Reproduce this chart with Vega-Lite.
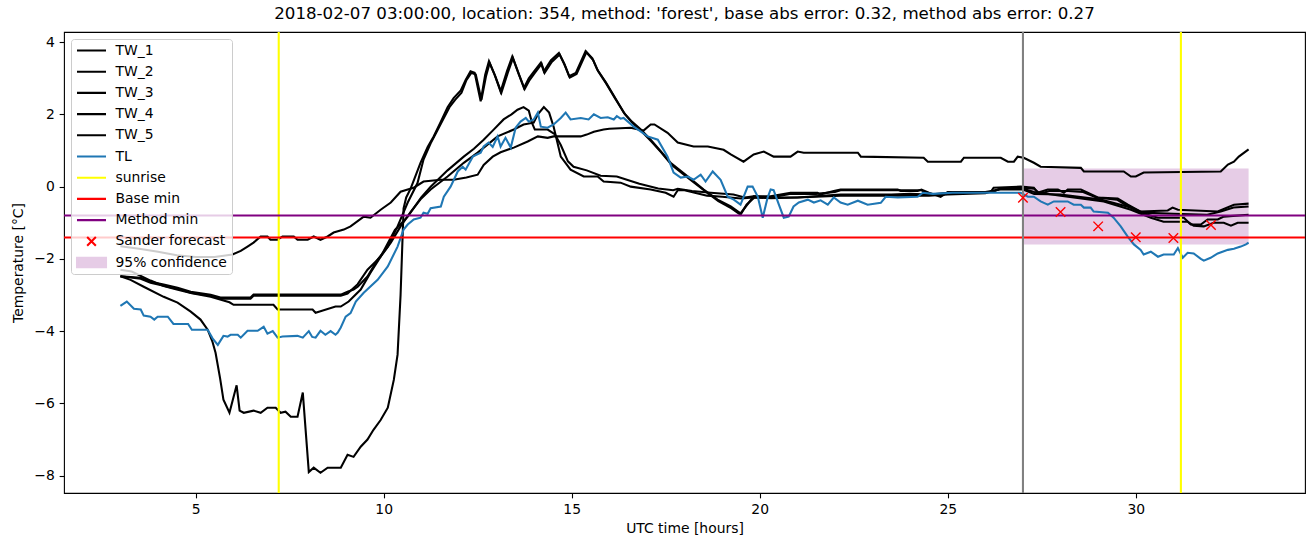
{
"$schema": "https://vega.github.io/schema/vega-lite/v6.json",
"width": 1241, "height": 461,
"autosize": {"type": "none"},
"padding": {"left": 64, "top": 32, "right": 8, "bottom": 54},
"background": "white",
"title": {"text": "2018-02-07 03:00:00, location: 354, method: 'forest', base abs error: 0.32, method abs error: 0.27", "font": "DejaVu Sans", "fontSize": 16.67, "fontWeight": "normal", "color": "black", "offset": 8, "anchor": "middle"},
"config": {
  "view": {"stroke": "black", "strokeWidth": 1.1},
  "axis": {"domain": false, "grid": false, "tickColor": "black", "tickSize": 4.86, "tickWidth": 1.1, "labelFont": "DejaVu Sans", "labelFontSize": 13.9, "labelColor": "black", "labelPadding": 4.86, "titleFont": "DejaVu Sans", "titleFontSize": 13.9, "titleFontWeight": "normal", "titleColor": "black"}
},
"datasets": {
  "band": [{"s": "95% confidence", "t": 27, "t2": 33, "v": -1.6, "v2": 0.5}],
  "sunrise": [{"s": "sunrise", "t": 7.21}, {"s": "sunrise", "t": 31.2}],
  "mins": [{"s": "Base min", "v": -1.41}, {"s": "Method min", "v": -0.8}],
  "now": [{"t": 27}],
  "fc": [{"s": "Sander forecast", "t": 27, "v": -0.31}, {"s": "Sander forecast", "t": 28, "v": -0.7}, {"s": "Sander forecast", "t": 29, "v": -1.1}, {"s": "Sander forecast", "t": 30, "v": -1.4}, {"s": "Sander forecast", "t": 31, "v": -1.42}, {"s": "Sander forecast", "t": 32, "v": -1.06}],
  "lines": [
{"s":"TW_1","t":3.0,"v":-2.48},{"s":"TW_1","t":3.27,"v":-2.58},{"s":"TW_1","t":3.62,"v":-2.77},{"s":"TW_1","t":4.15,"v":-3.05},{"s":"TW_1","t":4.52,"v":-3.21},{"s":"TW_1","t":4.87,"v":-3.46},{"s":"TW_1","t":5.13,"v":-3.68},{"s":"TW_1","t":5.32,"v":-3.96},{"s":"TW_1","t":5.45,"v":-4.3},{"s":"TW_1","t":5.53,"v":-4.6},{"s":"TW_1","t":5.65,"v":-5.3},{"s":"TW_1","t":5.74,"v":-5.9},{"s":"TW_1","t":5.9,"v":-6.26},{"s":"TW_1","t":6.09,"v":-5.5},{"s":"TW_1","t":6.17,"v":-6.2},{"s":"TW_1","t":6.28,"v":-6.26},{"s":"TW_1","t":6.54,"v":-6.2},{"s":"TW_1","t":6.73,"v":-6.26},{"s":"TW_1","t":6.91,"v":-6.12},{"s":"TW_1","t":7.13,"v":-6.12},{"s":"TW_1","t":7.26,"v":-6.26},{"s":"TW_1","t":7.39,"v":-6.23},{"s":"TW_1","t":7.53,"v":-6.37},{"s":"TW_1","t":7.71,"v":-6.37},{"s":"TW_1","t":7.85,"v":-5.7},{"s":"TW_1","t":8.01,"v":-7.9},{"s":"TW_1","t":8.14,"v":-7.78},{"s":"TW_1","t":8.32,"v":-7.92},{"s":"TW_1","t":8.51,"v":-7.78},{"s":"TW_1","t":8.86,"v":-7.78},{"s":"TW_1","t":9.04,"v":-7.42},{"s":"TW_1","t":9.2,"v":-7.48},{"s":"TW_1","t":9.39,"v":-7.2},{"s":"TW_1","t":9.57,"v":-7.0},{"s":"TW_1","t":9.73,"v":-6.73},{"s":"TW_1","t":9.92,"v":-6.46},{"s":"TW_1","t":10.11,"v":-6.12},{"s":"TW_1","t":10.27,"v":-5.35},{"s":"TW_1","t":10.37,"v":-4.65},{"s":"TW_1","t":10.45,"v":-3.0},{"s":"TW_1","t":10.53,"v":-0.6},{"s":"TW_1","t":10.6,"v":-0.3},{"s":"TW_1","t":10.72,"v":-0.05},{"s":"TW_1","t":10.98,"v":0.66},{"s":"TW_1","t":11.17,"v":1.1},{"s":"TW_1","t":11.33,"v":1.39},{"s":"TW_1","t":11.52,"v":1.8},{"s":"TW_1","t":11.7,"v":2.2},{"s":"TW_1","t":11.86,"v":2.45},{"s":"TW_1","t":12.05,"v":2.66},{"s":"TW_1","t":12.18,"v":2.95},{"s":"TW_1","t":12.31,"v":3.19},{"s":"TW_1","t":12.42,"v":3.15},{"s":"TW_1","t":12.58,"v":2.36},{"s":"TW_1","t":12.7,"v":3.1},{"s":"TW_1","t":12.8,"v":3.47},{"s":"TW_1","t":12.95,"v":3.1},{"s":"TW_1","t":13.11,"v":2.63},{"s":"TW_1","t":13.28,"v":3.2},{"s":"TW_1","t":13.42,"v":3.6},{"s":"TW_1","t":13.58,"v":3.15},{"s":"TW_1","t":13.73,"v":2.73},{"s":"TW_1","t":13.86,"v":3.0},{"s":"TW_1","t":14.0,"v":3.19},{"s":"TW_1","t":14.18,"v":3.43},{"s":"TW_1","t":14.26,"v":3.19},{"s":"TW_1","t":14.45,"v":3.5},{"s":"TW_1","t":14.66,"v":3.7},{"s":"TW_1","t":14.8,"v":3.4},{"s":"TW_1","t":14.93,"v":3.06},{"s":"TW_1","t":15.11,"v":3.15},{"s":"TW_1","t":15.37,"v":3.75},{"s":"TW_1","t":15.55,"v":3.55},{"s":"TW_1","t":15.68,"v":3.24},{"s":"TW_1","t":15.9,"v":2.9},{"s":"TW_1","t":16.13,"v":2.5},{"s":"TW_1","t":16.39,"v":2.04},{"s":"TW_1","t":16.6,"v":1.8},{"s":"TW_1","t":16.84,"v":1.58},{"s":"TW_1","t":17.1,"v":1.3},{"s":"TW_1","t":17.35,"v":1.0},{"s":"TW_1","t":17.63,"v":0.66},{"s":"TW_1","t":18.09,"v":0.28},{"s":"TW_1","t":18.51,"v":-0.08},{"s":"TW_1","t":18.88,"v":-0.36},{"s":"TW_1","t":19.23,"v":-0.55},{"s":"TW_1","t":19.49,"v":-0.74},{"s":"TW_1","t":19.63,"v":-0.55},{"s":"TW_1","t":19.84,"v":-0.27},{"s":"TW_1","t":20.29,"v":-0.27},{"s":"TW_1","t":20.82,"v":-0.17},{"s":"TW_1","t":21.54,"v":-0.17},{"s":"TW_1","t":21.6,"v":-0.22},{"s":"TW_1","t":21.97,"v":-0.12},{"s":"TW_1","t":22.15,"v":-0.08},{"s":"TW_1","t":23.67,"v":-0.08},{"s":"TW_1","t":23.75,"v":-0.12},{"s":"TW_1","t":24.2,"v":-0.12},{"s":"TW_1","t":24.3,"v":-0.08},{"s":"TW_1","t":24.5,"v":-0.17},{"s":"TW_1","t":24.81,"v":-0.28},{"s":"TW_1","t":25.0,"v":-0.15},{"s":"TW_1","t":26.14,"v":-0.15},{"s":"TW_1","t":26.22,"v":-0.03},{"s":"TW_1","t":26.94,"v":0.0},{"s":"TW_1","t":27.29,"v":-0.03},{"s":"TW_1","t":27.39,"v":-0.17},{"s":"TW_1","t":27.66,"v":-0.08},{"s":"TW_1","t":27.93,"v":-0.08},{"s":"TW_1","t":28.09,"v":-0.17},{"s":"TW_1","t":28.19,"v":-0.08},{"s":"TW_1","t":28.54,"v":-0.08},{"s":"TW_1","t":28.72,"v":-0.17},{"s":"TW_1","t":28.99,"v":-0.3},{"s":"TW_1","t":29.52,"v":-0.33},{"s":"TW_1","t":29.79,"v":-0.5},{"s":"TW_1","t":30.13,"v":-0.69},{"s":"TW_1","t":30.85,"v":-0.66},{"s":"TW_1","t":30.98,"v":-0.58},{"s":"TW_1","t":31.12,"v":-0.64},{"s":"TW_1","t":32.18,"v":-0.69},{"s":"TW_1","t":32.61,"v":-0.5},{"s":"TW_1","t":33.0,"v":-0.47},
{"s":"TW_2","t":3.0,"v":-2.48},{"s":"TW_2","t":3.54,"v":-2.52},{"s":"TW_2","t":3.8,"v":-2.63},{"s":"TW_2","t":4.15,"v":-2.71},{"s":"TW_2","t":4.52,"v":-2.8},{"s":"TW_2","t":4.87,"v":-2.91},{"s":"TW_2","t":5.4,"v":-2.99},{"s":"TW_2","t":5.66,"v":-3.07},{"s":"TW_2","t":6.46,"v":-3.07},{"s":"TW_2","t":6.54,"v":-2.99},{"s":"TW_2","t":8.86,"v":-2.99},{"s":"TW_2","t":9.04,"v":-2.91},{"s":"TW_2","t":9.2,"v":-2.85},{"s":"TW_2","t":9.31,"v":-2.77},{"s":"TW_2","t":9.57,"v":-2.49},{"s":"TW_2","t":9.84,"v":-2.02},{"s":"TW_2","t":10.11,"v":-1.66},{"s":"TW_2","t":10.37,"v":-1.1},{"s":"TW_2","t":10.64,"v":-0.44},{"s":"TW_2","t":10.9,"v":0.1},{"s":"TW_2","t":11.06,"v":0.75},{"s":"TW_2","t":11.25,"v":1.2},{"s":"TW_2","t":11.4,"v":1.5},{"s":"TW_2","t":11.6,"v":1.9},{"s":"TW_2","t":11.75,"v":2.2},{"s":"TW_2","t":11.9,"v":2.4},{"s":"TW_2","t":12.07,"v":2.6},{"s":"TW_2","t":12.2,"v":2.95},{"s":"TW_2","t":12.33,"v":3.15},{"s":"TW_2","t":12.45,"v":3.1},{"s":"TW_2","t":12.6,"v":2.4},{"s":"TW_2","t":12.72,"v":3.05},{"s":"TW_2","t":12.82,"v":3.42},{"s":"TW_2","t":12.97,"v":3.05},{"s":"TW_2","t":13.13,"v":2.6},{"s":"TW_2","t":13.3,"v":3.15},{"s":"TW_2","t":13.44,"v":3.56},{"s":"TW_2","t":13.6,"v":3.1},{"s":"TW_2","t":13.75,"v":2.7},{"s":"TW_2","t":13.88,"v":2.95},{"s":"TW_2","t":14.02,"v":3.15},{"s":"TW_2","t":14.2,"v":3.4},{"s":"TW_2","t":14.28,"v":3.15},{"s":"TW_2","t":14.47,"v":3.45},{"s":"TW_2","t":14.68,"v":3.66},{"s":"TW_2","t":14.82,"v":3.36},{"s":"TW_2","t":14.95,"v":3.02},{"s":"TW_2","t":15.13,"v":3.12},{"s":"TW_2","t":15.39,"v":3.72},{"s":"TW_2","t":15.57,"v":3.5},{"s":"TW_2","t":15.7,"v":3.2},{"s":"TW_2","t":15.92,"v":2.85},{"s":"TW_2","t":16.15,"v":2.45},{"s":"TW_2","t":16.42,"v":2.0},{"s":"TW_2","t":16.63,"v":1.75},{"s":"TW_2","t":16.87,"v":1.52},{"s":"TW_2","t":17.12,"v":1.25},{"s":"TW_2","t":17.38,"v":0.95},{"s":"TW_2","t":17.66,"v":0.6},{"s":"TW_2","t":18.12,"v":0.22},{"s":"TW_2","t":18.54,"v":-0.12},{"s":"TW_2","t":18.9,"v":-0.4},{"s":"TW_2","t":19.25,"v":-0.6},{"s":"TW_2","t":19.49,"v":-0.78},{"s":"TW_2","t":19.65,"v":-0.5},{"s":"TW_2","t":19.86,"v":-0.3},{"s":"TW_2","t":20.3,"v":-0.3},{"s":"TW_2","t":20.8,"v":-0.2},{"s":"TW_2","t":21.5,"v":-0.2},{"s":"TW_2","t":22.0,"v":-0.15},{"s":"TW_2","t":22.15,"v":-0.1},{"s":"TW_2","t":24.3,"v":-0.1},{"s":"TW_2","t":24.55,"v":-0.22},{"s":"TW_2","t":25.0,"v":-0.17},{"s":"TW_2","t":26.2,"v":-0.15},{"s":"TW_2","t":26.4,"v":-0.05},{"s":"TW_2","t":27.0,"v":-0.03},{"s":"TW_2","t":27.3,"v":-0.06},{"s":"TW_2","t":27.45,"v":-0.2},{"s":"TW_2","t":27.7,"v":-0.12},{"s":"TW_2","t":28.2,"v":-0.12},{"s":"TW_2","t":28.6,"v":-0.15},{"s":"TW_2","t":28.95,"v":-0.3},{"s":"TW_2","t":29.5,"v":-0.36},{"s":"TW_2","t":29.8,"v":-0.55},{"s":"TW_2","t":30.15,"v":-0.72},{"s":"TW_2","t":31.0,"v":-0.75},{"s":"TW_2","t":31.9,"v":-0.78},{"s":"TW_2","t":32.26,"v":-0.69},{"s":"TW_2","t":32.6,"v":-0.58},{"s":"TW_2","t":33.0,"v":-0.55},
{"s":"TW_3","t":3.0,"v":-2.48},{"s":"TW_3","t":3.54,"v":-2.55},{"s":"TW_3","t":3.8,"v":-2.66},{"s":"TW_3","t":4.15,"v":-2.74},{"s":"TW_3","t":4.52,"v":-2.83},{"s":"TW_3","t":4.87,"v":-2.94},{"s":"TW_3","t":5.4,"v":-3.02},{"s":"TW_3","t":5.66,"v":-3.1},{"s":"TW_3","t":6.46,"v":-3.1},{"s":"TW_3","t":6.54,"v":-3.02},{"s":"TW_3","t":8.86,"v":-3.02},{"s":"TW_3","t":9.04,"v":-2.96},{"s":"TW_3","t":9.31,"v":-2.7},{"s":"TW_3","t":9.57,"v":-2.3},{"s":"TW_3","t":9.92,"v":-1.94},{"s":"TW_3","t":10.3,"v":-1.2},{"s":"TW_3","t":10.64,"v":-0.83},{"s":"TW_3","t":11.0,"v":-0.3},{"s":"TW_3","t":11.25,"v":0.0},{"s":"TW_3","t":11.7,"v":0.45},{"s":"TW_3","t":12.13,"v":0.83},{"s":"TW_3","t":12.4,"v":1.05},{"s":"TW_3","t":12.66,"v":1.3},{"s":"TW_3","t":12.9,"v":1.55},{"s":"TW_3","t":13.19,"v":1.86},{"s":"TW_3","t":13.4,"v":2.0},{"s":"TW_3","t":13.56,"v":2.13},{"s":"TW_3","t":13.72,"v":2.2},{"s":"TW_3","t":13.86,"v":2.1},{"s":"TW_3","t":13.95,"v":1.75},{"s":"TW_3","t":14.02,"v":1.58},{"s":"TW_3","t":14.36,"v":1.58},{"s":"TW_3","t":14.55,"v":1.45},{"s":"TW_3","t":14.71,"v":1.15},{"s":"TW_3","t":14.9,"v":0.7},{"s":"TW_3","t":15.05,"v":0.55},{"s":"TW_3","t":15.4,"v":0.45},{"s":"TW_3","t":15.77,"v":0.3},{"s":"TW_3","t":16.2,"v":0.28},{"s":"TW_3","t":16.8,"v":0.08},{"s":"TW_3","t":17.3,"v":-0.05},{"s":"TW_3","t":17.7,"v":-0.1},{"s":"TW_3","t":17.82,"v":-0.06},{"s":"TW_3","t":18.2,"v":-0.12},{"s":"TW_3","t":18.7,"v":-0.17},{"s":"TW_3","t":19.3,"v":-0.22},{"s":"TW_3","t":19.6,"v":-0.3},{"s":"TW_3","t":19.84,"v":-0.27},{"s":"TW_3","t":20.3,"v":-0.3},{"s":"TW_3","t":21.0,"v":-0.3},{"s":"TW_3","t":22.15,"v":-0.22},{"s":"TW_3","t":23.5,"v":-0.22},{"s":"TW_3","t":24.0,"v":-0.2},{"s":"TW_3","t":24.5,"v":-0.22},{"s":"TW_3","t":25.0,"v":-0.2},{"s":"TW_3","t":26.0,"v":-0.15},{"s":"TW_3","t":26.4,"v":-0.08},{"s":"TW_3","t":27.0,"v":-0.08},{"s":"TW_3","t":27.3,"v":-0.2},{"s":"TW_3","t":28.0,"v":-0.22},{"s":"TW_3","t":29.07,"v":-0.36},{"s":"TW_3","t":29.87,"v":-0.58},{"s":"TW_3","t":30.32,"v":-0.78},{"s":"TW_3","t":30.59,"v":-0.86},{"s":"TW_3","t":31.28,"v":-0.86},{"s":"TW_3","t":31.46,"v":-1.05},{"s":"TW_3","t":31.73,"v":-1.05},{"s":"TW_3","t":31.91,"v":-0.91},{"s":"TW_3","t":32.18,"v":-0.91},{"s":"TW_3","t":32.34,"v":-0.83},{"s":"TW_3","t":33.0,"v":-0.78},
{"s":"TW_4","t":3.0,"v":-2.3},{"s":"TW_4","t":3.3,"v":-2.35},{"s":"TW_4","t":3.8,"v":-2.6},{"s":"TW_4","t":4.15,"v":-2.75},{"s":"TW_4","t":4.5,"v":-2.85},{"s":"TW_4","t":4.9,"v":-2.95},{"s":"TW_4","t":5.4,"v":-3.05},{"s":"TW_4","t":5.9,"v":-3.2},{"s":"TW_4","t":6.01,"v":-3.27},{"s":"TW_4","t":7.07,"v":-3.27},{"s":"TW_4","t":7.18,"v":-3.4},{"s":"TW_4","t":8.11,"v":-3.4},{"s":"TW_4","t":8.19,"v":-3.49},{"s":"TW_4","t":8.32,"v":-3.45},{"s":"TW_4","t":8.72,"v":-3.32},{"s":"TW_4","t":8.86,"v":-3.32},{"s":"TW_4","t":9.07,"v":-3.18},{"s":"TW_4","t":9.39,"v":-2.85},{"s":"TW_4","t":9.65,"v":-2.38},{"s":"TW_4","t":9.92,"v":-1.94},{"s":"TW_4","t":10.19,"v":-1.55},{"s":"TW_4","t":10.45,"v":-1.1},{"s":"TW_4","t":10.72,"v":-0.7},{"s":"TW_4","t":10.98,"v":-0.35},{"s":"TW_4","t":11.25,"v":-0.08},{"s":"TW_4","t":11.7,"v":0.28},{"s":"TW_4","t":12.13,"v":0.66},{"s":"TW_4","t":12.5,"v":0.94},{"s":"TW_4","t":13.03,"v":1.39},{"s":"TW_4","t":13.46,"v":1.58},{"s":"TW_4","t":13.72,"v":1.72},{"s":"TW_4","t":13.99,"v":1.77},{"s":"TW_4","t":14.1,"v":2.0},{"s":"TW_4","t":14.26,"v":2.2},{"s":"TW_4","t":14.4,"v":2.05},{"s":"TW_4","t":14.52,"v":1.66},{"s":"TW_4","t":14.71,"v":0.83},{"s":"TW_4","t":14.97,"v":0.47},{"s":"TW_4","t":15.32,"v":0.28},{"s":"TW_4","t":15.69,"v":0.28},{"s":"TW_4","t":15.85,"v":0.14},{"s":"TW_4","t":16.3,"v":0.11},{"s":"TW_4","t":16.57,"v":0.0},{"s":"TW_4","t":17.1,"v":-0.08},{"s":"TW_4","t":17.5,"v":-0.17},{"s":"TW_4","t":17.71,"v":-0.28},{"s":"TW_4","t":17.82,"v":-0.1},{"s":"TW_4","t":18.0,"v":-0.1},{"s":"TW_4","t":18.6,"v":-0.25},{"s":"TW_4","t":19.0,"v":-0.28},{"s":"TW_4","t":19.5,"v":-0.33},{"s":"TW_4","t":19.84,"v":-0.3},{"s":"TW_4","t":20.3,"v":-0.32},{"s":"TW_4","t":21.0,"v":-0.3},{"s":"TW_4","t":22.15,"v":-0.25},{"s":"TW_4","t":24.5,"v":-0.25},{"s":"TW_4","t":25.0,"v":-0.22},{"s":"TW_4","t":26.0,"v":-0.18},{"s":"TW_4","t":26.4,"v":-0.06},{"s":"TW_4","t":27.0,"v":-0.06},{"s":"TW_4","t":27.3,"v":-0.15},{"s":"TW_4","t":28.0,"v":-0.25},{"s":"TW_4","t":29.15,"v":-0.41},{"s":"TW_4","t":29.87,"v":-0.64},{"s":"TW_4","t":30.4,"v":-0.86},{"s":"TW_4","t":30.74,"v":-0.97},{"s":"TW_4","t":31.38,"v":-0.97},{"s":"TW_4","t":31.54,"v":-1.08},{"s":"TW_4","t":31.81,"v":-1.1},{"s":"TW_4","t":32.07,"v":-1.0},{"s":"TW_4","t":32.34,"v":-1.0},{"s":"TW_4","t":32.53,"v":-1.08},{"s":"TW_4","t":32.71,"v":-1.0},{"s":"TW_4","t":33.0,"v":-1.0},
{"s":"TW_5","t":3.0,"v":-1.65},{"s":"TW_5","t":3.5,"v":-1.72},{"s":"TW_5","t":4.0,"v":-1.8},{"s":"TW_5","t":4.5,"v":-1.9},{"s":"TW_5","t":5.0,"v":-1.95},{"s":"TW_5","t":5.5,"v":-1.95},{"s":"TW_5","t":5.98,"v":-1.88},{"s":"TW_5","t":6.2,"v":-1.78},{"s":"TW_5","t":6.38,"v":-1.66},{"s":"TW_5","t":6.54,"v":-1.55},{"s":"TW_5","t":6.73,"v":-1.38},{"s":"TW_5","t":6.91,"v":-1.38},{"s":"TW_5","t":6.99,"v":-1.47},{"s":"TW_5","t":7.18,"v":-1.47},{"s":"TW_5","t":7.31,"v":-1.38},{"s":"TW_5","t":7.61,"v":-1.38},{"s":"TW_5","t":7.71,"v":-1.47},{"s":"TW_5","t":7.98,"v":-1.47},{"s":"TW_5","t":8.14,"v":-1.38},{"s":"TW_5","t":8.32,"v":-1.47},{"s":"TW_5","t":8.51,"v":-1.38},{"s":"TW_5","t":8.67,"v":-1.27},{"s":"TW_5","t":8.94,"v":-1.19},{"s":"TW_5","t":9.12,"v":-1.1},{"s":"TW_5","t":9.47,"v":-0.83},{"s":"TW_5","t":9.65,"v":-0.86},{"s":"TW_5","t":9.92,"v":-0.64},{"s":"TW_5","t":10.19,"v":-0.44},{"s":"TW_5","t":10.45,"v":-0.14},{"s":"TW_5","t":10.64,"v":-0.08},{"s":"TW_5","t":10.8,"v":-0.03},{"s":"TW_5","t":11.06,"v":0.14},{"s":"TW_5","t":11.52,"v":0.19},{"s":"TW_5","t":11.86,"v":0.19},{"s":"TW_5","t":12.2,"v":0.25},{"s":"TW_5","t":12.5,"v":0.33},{"s":"TW_5","t":12.66,"v":0.6},{"s":"TW_5","t":12.9,"v":0.83},{"s":"TW_5","t":13.11,"v":0.95},{"s":"TW_5","t":13.46,"v":1.08},{"s":"TW_5","t":13.83,"v":1.25},{"s":"TW_5","t":14.1,"v":1.39},{"s":"TW_5","t":14.36,"v":1.35},{"s":"TW_5","t":14.52,"v":1.39},{"s":"TW_5","t":15.24,"v":1.39},{"s":"TW_5","t":15.4,"v":1.44},{"s":"TW_5","t":15.59,"v":1.52},{"s":"TW_5","t":15.85,"v":1.58},{"s":"TW_5","t":16.0,"v":1.6},{"s":"TW_5","t":16.57,"v":1.63},{"s":"TW_5","t":16.91,"v":1.55},{"s":"TW_5","t":17.1,"v":1.72},{"s":"TW_5","t":17.2,"v":1.72},{"s":"TW_5","t":17.55,"v":1.49},{"s":"TW_5","t":17.82,"v":1.22},{"s":"TW_5","t":18.24,"v":1.11},{"s":"TW_5","t":18.62,"v":1.11},{"s":"TW_5","t":19.04,"v":1.02},{"s":"TW_5","t":19.23,"v":0.89},{"s":"TW_5","t":19.57,"v":0.69},{"s":"TW_5","t":19.84,"v":0.89},{"s":"TW_5","t":20.11,"v":0.97},{"s":"TW_5","t":20.37,"v":0.83},{"s":"TW_5","t":20.82,"v":0.83},{"s":"TW_5","t":21.01,"v":0.97},{"s":"TW_5","t":21.17,"v":0.94},{"s":"TW_5","t":22.61,"v":0.94},{"s":"TW_5","t":22.69,"v":0.83},{"s":"TW_5","t":24.36,"v":0.8},{"s":"TW_5","t":24.47,"v":0.69},{"s":"TW_5","t":25.35,"v":0.69},{"s":"TW_5","t":25.43,"v":0.8},{"s":"TW_5","t":26.41,"v":0.8},{"s":"TW_5","t":26.6,"v":0.69},{"s":"TW_5","t":26.76,"v":0.69},{"s":"TW_5","t":26.86,"v":0.83},{"s":"TW_5","t":27.02,"v":0.8},{"s":"TW_5","t":27.29,"v":0.66},{"s":"TW_5","t":27.47,"v":0.55},{"s":"TW_5","t":28.54,"v":0.52},{"s":"TW_5","t":28.62,"v":0.42},{"s":"TW_5","t":29.68,"v":0.42},{"s":"TW_5","t":29.87,"v":0.28},{"s":"TW_5","t":30.0,"v":0.28},{"s":"TW_5","t":30.21,"v":0.39},{"s":"TW_5","t":32.26,"v":0.42},{"s":"TW_5","t":32.45,"v":0.61},{"s":"TW_5","t":32.61,"v":0.69},{"s":"TW_5","t":32.74,"v":0.83},{"s":"TW_5","t":33.0,"v":1.03},
{"s":"TL","t":3.0,"v":-3.3},{"s":"TL","t":3.17,"v":-3.18},{"s":"TL","t":3.36,"v":-3.38},{"s":"TL","t":3.54,"v":-3.4},{"s":"TL","t":3.62,"v":-3.57},{"s":"TL","t":3.8,"v":-3.6},{"s":"TL","t":3.9,"v":-3.68},{"s":"TL","t":3.99,"v":-3.6},{"s":"TL","t":4.26,"v":-3.6},{"s":"TL","t":4.41,"v":-3.8},{"s":"TL","t":4.8,"v":-3.8},{"s":"TL","t":4.9,"v":-3.96},{"s":"TL","t":5.32,"v":-3.96},{"s":"TL","t":5.45,"v":-4.2},{"s":"TL","t":5.59,"v":-4.38},{"s":"TL","t":5.74,"v":-4.13},{"s":"TL","t":5.85,"v":-4.15},{"s":"TL","t":5.93,"v":-4.1},{"s":"TL","t":6.12,"v":-4.1},{"s":"TL","t":6.2,"v":-4.18},{"s":"TL","t":6.38,"v":-3.99},{"s":"TL","t":6.65,"v":-3.99},{"s":"TL","t":6.81,"v":-3.88},{"s":"TL","t":6.91,"v":-4.07},{"s":"TL","t":7.05,"v":-4.0},{"s":"TL","t":7.18,"v":-4.18},{"s":"TL","t":7.31,"v":-4.15},{"s":"TL","t":7.71,"v":-4.13},{"s":"TL","t":7.85,"v":-4.18},{"s":"TL","t":8.01,"v":-4.0},{"s":"TL","t":8.1,"v":-4.16},{"s":"TL","t":8.19,"v":-4.18},{"s":"TL","t":8.32,"v":-3.99},{"s":"TL","t":8.45,"v":-4.1},{"s":"TL","t":8.59,"v":-4.0},{"s":"TL","t":8.72,"v":-4.1},{"s":"TL","t":8.78,"v":-4.04},{"s":"TL","t":8.86,"v":-3.9},{"s":"TL","t":8.99,"v":-3.6},{"s":"TL","t":9.12,"v":-3.5},{"s":"TL","t":9.26,"v":-3.18},{"s":"TL","t":9.47,"v":-2.94},{"s":"TL","t":9.84,"v":-2.58},{"s":"TL","t":10.11,"v":-2.21},{"s":"TL","t":10.37,"v":-1.66},{"s":"TL","t":10.53,"v":-1.19},{"s":"TL","t":10.64,"v":-1.05},{"s":"TL","t":10.8,"v":-0.91},{"s":"TL","t":10.98,"v":-0.86},{"s":"TL","t":11.06,"v":-0.72},{"s":"TL","t":11.17,"v":-0.75},{"s":"TL","t":11.25,"v":-0.6},{"s":"TL","t":11.52,"v":-0.55},{"s":"TL","t":11.6,"v":-0.28},{"s":"TL","t":11.78,"v":0.0},{"s":"TL","t":11.97,"v":0.42},{"s":"TL","t":12.1,"v":0.55},{"s":"TL","t":12.18,"v":0.47},{"s":"TL","t":12.37,"v":0.83},{"s":"TL","t":12.58,"v":0.94},{"s":"TL","t":12.66,"v":1.11},{"s":"TL","t":12.79,"v":1.22},{"s":"TL","t":12.9,"v":1.1},{"s":"TL","t":13.03,"v":1.39},{"s":"TL","t":13.11,"v":1.11},{"s":"TL","t":13.24,"v":1.35},{"s":"TL","t":13.38,"v":1.08},{"s":"TL","t":13.51,"v":1.63},{"s":"TL","t":13.64,"v":1.8},{"s":"TL","t":13.78,"v":1.9},{"s":"TL","t":13.86,"v":1.8},{"s":"TL","t":13.99,"v":1.86},{"s":"TL","t":14.1,"v":2.05},{"s":"TL","t":14.18,"v":1.66},{"s":"TL","t":14.36,"v":1.63},{"s":"TL","t":14.52,"v":1.72},{"s":"TL","t":14.71,"v":1.9},{"s":"TL","t":14.84,"v":2.05},{"s":"TL","t":14.97,"v":1.86},{"s":"TL","t":15.24,"v":1.9},{"s":"TL","t":15.45,"v":1.86},{"s":"TL","t":15.59,"v":2.0},{"s":"TL","t":15.77,"v":1.9},{"s":"TL","t":15.96,"v":1.92},{"s":"TL","t":16.12,"v":1.86},{"s":"TL","t":16.2,"v":1.95},{"s":"TL","t":16.3,"v":1.88},{"s":"TL","t":16.38,"v":1.9},{"s":"TL","t":16.65,"v":1.66},{"s":"TL","t":17.02,"v":1.39},{"s":"TL","t":17.29,"v":1.3},{"s":"TL","t":17.55,"v":0.83},{"s":"TL","t":17.71,"v":0.39},{"s":"TL","t":17.9,"v":0.25},{"s":"TL","t":18.09,"v":0.28},{"s":"TL","t":18.24,"v":0.19},{"s":"TL","t":18.43,"v":0.33},{"s":"TL","t":18.56,"v":0.14},{"s":"TL","t":18.75,"v":0.42},{"s":"TL","t":18.96,"v":0.19},{"s":"TL","t":19.15,"v":-0.28},{"s":"TL","t":19.31,"v":-0.36},{"s":"TL","t":19.49,"v":-0.5},{"s":"TL","t":19.68,"v":0.0},{"s":"TL","t":19.81,"v":0.0},{"s":"TL","t":19.95,"v":-0.28},{"s":"TL","t":20.08,"v":-0.86},{"s":"TL","t":20.21,"v":-0.3},{"s":"TL","t":20.29,"v":-0.08},{"s":"TL","t":20.37,"v":-0.1},{"s":"TL","t":20.51,"v":-0.5},{"s":"TL","t":20.64,"v":-0.86},{"s":"TL","t":20.77,"v":-0.83},{"s":"TL","t":20.9,"v":-0.55},{"s":"TL","t":21.04,"v":-0.44},{"s":"TL","t":21.28,"v":-0.36},{"s":"TL","t":21.44,"v":-0.44},{"s":"TL","t":21.62,"v":-0.38},{"s":"TL","t":21.81,"v":-0.5},{"s":"TL","t":21.97,"v":-0.3},{"s":"TL","t":22.15,"v":-0.44},{"s":"TL","t":22.34,"v":-0.5},{"s":"TL","t":22.61,"v":-0.39},{"s":"TL","t":22.87,"v":-0.5},{"s":"TL","t":23.22,"v":-0.45},{"s":"TL","t":23.35,"v":-0.28},{"s":"TL","t":23.67,"v":-0.3},{"s":"TL","t":24.2,"v":-0.28},{"s":"TL","t":24.34,"v":-0.17},{"s":"TL","t":24.6,"v":-0.2},{"s":"TL","t":25.13,"v":-0.17},{"s":"TL","t":26.94,"v":-0.17},{"s":"TL","t":27.13,"v":-0.28},{"s":"TL","t":27.29,"v":-0.28},{"s":"TL","t":27.47,"v":-0.41},{"s":"TL","t":27.66,"v":-0.5},{"s":"TL","t":27.82,"v":-0.41},{"s":"TL","t":28.19,"v":-0.41},{"s":"TL","t":28.35,"v":-0.5},{"s":"TL","t":28.54,"v":-0.5},{"s":"TL","t":28.62,"v":-0.58},{"s":"TL","t":28.8,"v":-0.58},{"s":"TL","t":28.88,"v":-0.69},{"s":"TL","t":29.26,"v":-0.72},{"s":"TL","t":29.41,"v":-0.86},{"s":"TL","t":29.6,"v":-1.1},{"s":"TL","t":29.79,"v":-1.39},{"s":"TL","t":29.95,"v":-1.6},{"s":"TL","t":30.13,"v":-1.75},{"s":"TL","t":30.21,"v":-1.88},{"s":"TL","t":30.4,"v":-1.8},{"s":"TL","t":30.59,"v":-1.94},{"s":"TL","t":30.74,"v":-1.88},{"s":"TL","t":31.01,"v":-1.88},{"s":"TL","t":31.12,"v":-1.7},{"s":"TL","t":31.25,"v":-1.97},{"s":"TL","t":31.38,"v":-1.83},{"s":"TL","t":31.54,"v":-1.85},{"s":"TL","t":31.73,"v":-2.0},{"s":"TL","t":31.81,"v":-2.05},{"s":"TL","t":31.99,"v":-1.97},{"s":"TL","t":32.18,"v":-1.85},{"s":"TL","t":32.45,"v":-1.75},{"s":"TL","t":32.61,"v":-1.72},{"s":"TL","t":32.79,"v":-1.66},{"s":"TL","t":32.93,"v":-1.6},{"s":"TL","t":33.0,"v":-1.55}
  ]
},
"layer": [
  {"data": {"name": "band"},
   "mark": {"type": "rect", "opacity": 1},
   "encoding": {
     "x": {"field": "t", "type": "quantitative", "title": "UTC time [hours]", "scale": {"domain": [1.5, 34.5], "nice": false, "zero": false}},
     "x2": {"field": "t2"},
     "y": {"field": "v", "type": "quantitative", "title": "Temperature [°C]", "scale": {"domain": [-8.48, 4.28], "nice": false, "zero": false}},
     "y2": {"field": "v2"},
     "color": {"field": "s", "type": "nominal", "scale": {"domain": ["TW_1","TW_2","TW_3","TW_4","TW_5","TL","sunrise","Base min","Method min","Sander forecast","95% confidence"], "range": ["#000000","#000000","#000000","#000000","#000000","#1f77b4","#ffff00","#ff0000","#800080","#ff0000","#e6cce6"]}}
   }},
  {"data": {"name": "lines"},
   "mark": {"type": "line", "strokeWidth": 2.08},
   "encoding": {
     "x": {"field": "t", "type": "quantitative", "title": "UTC time [hours]", "scale": {"domain": [1.5, 34.5], "nice": false, "zero": false}, "axis": {"values": [5,10,15,20,25,30], "titlePadding": 5}},
     "y": {"field": "v", "type": "quantitative", "title": "Temperature [°C]", "scale": {"domain": [-8.48, 4.28], "nice": false, "zero": false}, "axis": {"values": [-8,-6,-4,-2,0,2,4], "titlePadding": 8}},
     "color": {"field": "s", "type": "nominal",
       "scale": {"domain": ["TW_1","TW_2","TW_3","TW_4","TW_5","TL","sunrise","Base min","Method min","Sander forecast","95% confidence"], "range": ["#000000","#000000","#000000","#000000","#000000","#1f77b4","#ffff00","#ff0000","#800080","#ff0000","#e6cce6"]},
       "legend": {"title": null, "orient": "top-left", "offset": 6.5, "padding": 4.5, "labelFont": "DejaVu Sans", "labelFontSize": 13.9, "labelColor": "black", "labelOffset": 8, "symbolSize": 841, "symbolStrokeWidth": 2.08, "symbolType": "M-1,0H1", "clipHeight": 14, "rowPadding": 7.2, "strokeColor": "#cccccc", "fillColor": "rgba(255,255,255,0.8)", "cornerRadius": 3,
         "encode": {"symbols": {"update": {
           "shape": {"signal": "datum.value === 'Sander forecast' ? 'M-0.3,-0.3L0.3,0.3M-0.3,0.3L0.3,-0.3' : (datum.value === '95% confidence' ? 'M-1,-0.33H1V0.33H-1Z' : 'M-1,0H1')"},
           "opacity": {"value": 1}
         }}}
       }}
   }},
  {"data": {"name": "sunrise"},
   "mark": {"type": "rule", "strokeWidth": 2.08},
   "encoding": {
     "x": {"field": "t", "type": "quantitative", "title": "UTC time [hours]", "scale": {"domain": [1.5, 34.5], "nice": false, "zero": false}},
     "color": {"field": "s", "type": "nominal", "scale": {"domain": ["TW_1","TW_2","TW_3","TW_4","TW_5","TL","sunrise","Base min","Method min","Sander forecast","95% confidence"], "range": ["#000000","#000000","#000000","#000000","#000000","#1f77b4","#ffff00","#ff0000","#800080","#ff0000","#e6cce6"]}}
   }},
  {"data": {"name": "mins"},
   "mark": {"type": "rule", "strokeWidth": 2.08},
   "encoding": {
     "y": {"field": "v", "type": "quantitative", "title": "Temperature [°C]", "scale": {"domain": [-8.48, 4.28], "nice": false, "zero": false}},
     "color": {"field": "s", "type": "nominal", "scale": {"domain": ["TW_1","TW_2","TW_3","TW_4","TW_5","TL","sunrise","Base min","Method min","Sander forecast","95% confidence"], "range": ["#000000","#000000","#000000","#000000","#000000","#1f77b4","#ffff00","#ff0000","#800080","#ff0000","#e6cce6"]}}
   }},
  {"data": {"name": "now"},
   "mark": {"type": "rule", "strokeWidth": 2.08, "color": "#808080"},
   "encoding": {
     "x": {"field": "t", "type": "quantitative", "title": "UTC time [hours]", "scale": {"domain": [1.5, 34.5], "nice": false, "zero": false}}
   }},
  {"data": {"name": "fc"},
   "mark": {"type": "point", "shape": "M-1,-1L1,1M-1,1L1,-1", "filled": false, "size": 90, "strokeWidth": 1.4, "opacity": 1},
   "encoding": {
     "x": {"field": "t", "type": "quantitative", "title": "UTC time [hours]", "scale": {"domain": [1.5, 34.5], "nice": false, "zero": false}},
     "y": {"field": "v", "type": "quantitative", "title": "Temperature [°C]", "scale": {"domain": [-8.48, 4.28], "nice": false, "zero": false}},
     "color": {"field": "s", "type": "nominal", "scale": {"domain": ["TW_1","TW_2","TW_3","TW_4","TW_5","TL","sunrise","Base min","Method min","Sander forecast","95% confidence"], "range": ["#000000","#000000","#000000","#000000","#000000","#1f77b4","#ffff00","#ff0000","#800080","#ff0000","#e6cce6"]}}
   }}
]
}
